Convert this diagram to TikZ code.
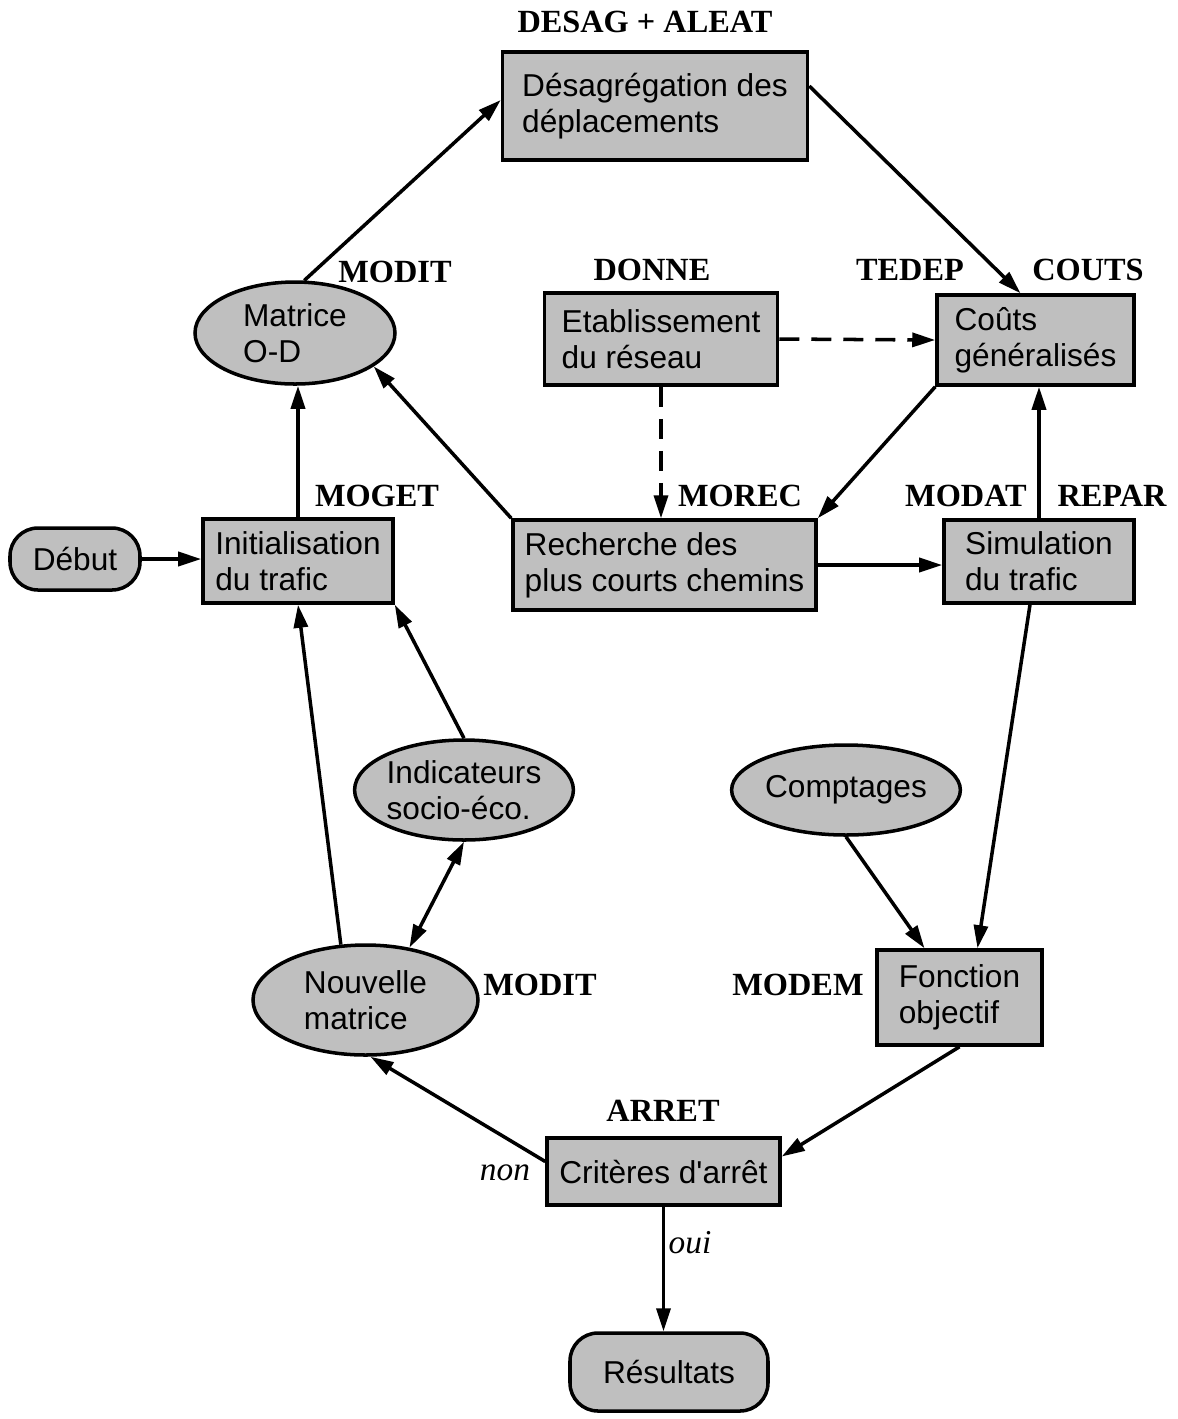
\documentclass[tikz,border=0pt]{standalone}
\usepackage{fontspec}
\setmainfont{Liberation Serif}
\newfontfamily\helv{Liberation Sans}
\usetikzlibrary{shapes,arrows.meta}

\tikzset{
  box/.style={draw, rectangle, fill=black!25, line width=1pt, inner sep=0pt,
    align=left, font=\helv\fontsize{9}{10.2}\selectfont},
  oval/.style={box, ellipse},
  term/.style={box, rounded corners=2.8mm},
  code/.style={font=\bfseries\fontsize{9.2}{11}\selectfont},
  answer/.style={font=\itshape\fontsize{9.5}{11}\selectfont},
}

\begin{document}
\begin{tikzpicture}[line width=1pt, >={Triangle[length=2.3mm,width=1.4mm]}]
  \useasboundingbox (0,0) rectangle (11.78,-14.19);

  % boxes
  \node[box, minimum width=3.05cm, minimum height=1.08cm] (desag) at (6.55,-1.06) {Désagrégation des\\déplacements};
  \node[oval, minimum width=2cm, minimum height=1.02cm] (matrice) at (2.95,-3.33) {Matrice\\O-D};
  \node[box, minimum width=2.33cm, minimum height=0.92cm] (etab) at (6.61,-3.39) {Etablissement\\du réseau};
  \node[box, minimum width=1.97cm, minimum height=0.9cm] (couts) at (10.355,-3.40) {Coûts\\généralisés};
  \node[term, minimum width=1.3cm, minimum height=0.62cm] (debut) at (0.75,-5.59) {Début};
  \node[box, minimum width=1.9cm, minimum height=0.84cm] (init) at (2.98,-5.61) {Initialisation\\du trafic};
  \node[box, minimum width=3.03cm, minimum height=0.9cm] (recherche) at (6.645,-5.65) {Recherche des\\plus courts chemins};
  \node[box, minimum width=1.9cm, minimum height=0.83cm] (simul) at (10.39,-5.615) {Simulation\\du trafic};
  \node[oval, minimum width=2cm, minimum height=1cm] (indic) at (4.64,-7.90) {Indicateurs\\socio-éco.};
  \node[oval, minimum width=2.2cm, minimum height=0.9cm] (comptages) at (8.46,-7.90) {Comptages};
  \node[oval, minimum width=2.25cm, minimum height=1.1cm] (nouvelle) at (3.655,-10.00) {Nouvelle\\matrice};
  \node[box, minimum width=1.65cm, minimum height=0.95cm] (fonction) at (9.595,-9.975) {Fonction\\objectif};
  \node[box, minimum width=2.33cm, minimum height=0.67cm] (criteres) at (6.635,-11.715) {Critères d'arrêt};
  \node[term, minimum width=1.98cm, minimum height=0.78cm] (resultats) at (6.69,-13.72) {Résultats};

  % module names
  \node[code] (lDesag) at (6.45,-0.22) {DESAG + ALEAT};
  \node[code] (lModit) at (3.95,-2.72) {MODIT};
  \node[code] (lDonne) at (6.52,-2.70) {DONNE};
  \node[code] (lTedep) at (9.10,-2.70) {TEDEP};
  \node[code] (lCouts) at (10.88,-2.70) {COUTS};
  \node[code] (lMoget) at (3.77,-4.96) {MOGET};
  \node[code] (lMorec) at (7.40,-4.96) {MOREC};
  \node[code] (lModat) at (9.66,-4.96) {MODAT};
  \node[code] (lRepar) at (11.12,-4.96) {REPAR};
  \node[code] (lModitB) at (5.40,-9.85) {MODIT};
  \node[code] (lModem) at (7.98,-9.85) {MODEM};
  \node[code] (lArret) at (6.63,-11.11) {ARRET};
  \node[answer] (lNon) at (5.05,-11.73) {non};
  \node[answer] (lOui) at (6.90,-12.43) {oui};

  % links
  \path[->] (matrice.80) edge ([yshift=0.6mm]desag.west);
  \path[->] ([yshift=2mm]desag.east) edge ([xshift=-1.5mm]couts.north);
  \path[->, dash pattern=on 2mm off 1.2mm] (etab.east) edge (couts.west);
  \path[->, dash pattern=on 2mm off 1.2mm] (etab.south) edge (etab.south |- recherche.north);
  \path[->] (couts.south west) edge (recherche.north east);
  \path[->] (recherche.north west) edge (matrice.-23);
  \path[->] (recherche.east) edge (recherche.east -| simul.west);
  \path[->] (simul.north) edge (simul.north |- couts.south);
  \path[->] (debut.east) edge (debut.east -| init.west);
  \path[->] (init.north) edge (init.north |- matrice.south);
  \path[->] (indic.north) edge (init.south east);
  \path[->] (nouvelle.114) edge (init.south);
  \path[<->] (nouvelle.50) edge (indic.south);
  \path[->] (comptages.south) edge ([xshift=-3.5mm]fonction.north);
  \path[->] ([xshift=-0.9mm]simul.south) edge ([xshift=1.8mm]fonction.north);
  \path[->] (fonction.south) edge ([yshift=1.5mm]criteres.east);
  \path[->] ([yshift=1mm]criteres.west) edge ([xshift=0.5mm]nouvelle.south);
  \path[->] (criteres.south) edge (criteres.south |- resultats.north);
\end{tikzpicture}
\end{document}
